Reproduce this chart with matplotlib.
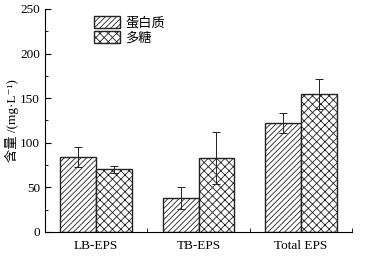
import numpy as np
import matplotlib
matplotlib.use("Agg")
from matplotlib import pyplot as plt
from matplotlib.ticker import MultipleLocator, FixedLocator

categories = ['LB-EPS', 'TB-EPS', 'Total EPS']
protein = [84, 38, 122]
protein_err = [11, 12, 11.5]
sugar = [70, 83, 155]
sugar_err = [4, 29, 17]
series_names = ['蛋白质', '多糖']

plt.rcParams['font.family'] = ['Liberation Serif', 'Noto Sans CJK SC', 'DejaVu Serif']
plt.rcParams['hatch.linewidth'] = 0.6

fig = plt.figure(figsize=(3.68, 2.57), dpi=100)
ax = fig.add_axes([0.122, 0.098, 0.835, 0.867])

x = np.arange(1, len(categories) + 1)
w = 0.35
ekw = dict(elinewidth=0.7, capsize=3, capthick=0.7, ecolor='#222222')
ax.bar(x - w / 2, protein, w, yerr=protein_err, color='white', edgecolor='#222222',
       hatch='//////', linewidth=1.0, error_kw=ekw, label=series_names[0])
ax.bar(x + w / 2, sugar, w, yerr=sugar_err, color='white', edgecolor='#222222',
       hatch='xxxx', linewidth=1.0, error_kw=ekw, label=series_names[1])

ax.set_xlim(0.5, 3.5)
ax.set_ylim(0, 250)
ax.set_xticks(x)
ax.set_xticklabels(categories, fontsize=9.5)
ax.xaxis.set_minor_locator(FixedLocator([1.5, 2.5, 3.5]))
ax.tick_params(axis='x', which='major', length=0, pad=6)
ax.tick_params(axis='x', which='minor', direction='in', length=3)
ax.yaxis.set_major_locator(MultipleLocator(50))
ax.yaxis.set_minor_locator(MultipleLocator(25))
ax.tick_params(axis='y', which='major', direction='in', length=4, labelsize=9.5)
ax.tick_params(axis='y', which='minor', direction='in', length=2)
ax.spines['top'].set_visible(False)
ax.spines['right'].set_visible(False)
ax.set_ylabel('含量 /(mg·L⁻¹)', fontsize=9.5)
ax.yaxis.set_label_coords(-0.085, 0.5)

ax.legend(loc='upper left', bbox_to_anchor=(0.12, 1.02), frameon=False,
          handlelength=2.0, handleheight=1.0, handletextpad=0.4, labelspacing=0.1,
          prop={'family': ['Noto Sans CJK SC'], 'size': 9.5})

fig.savefig('out.png', dpi=100)
